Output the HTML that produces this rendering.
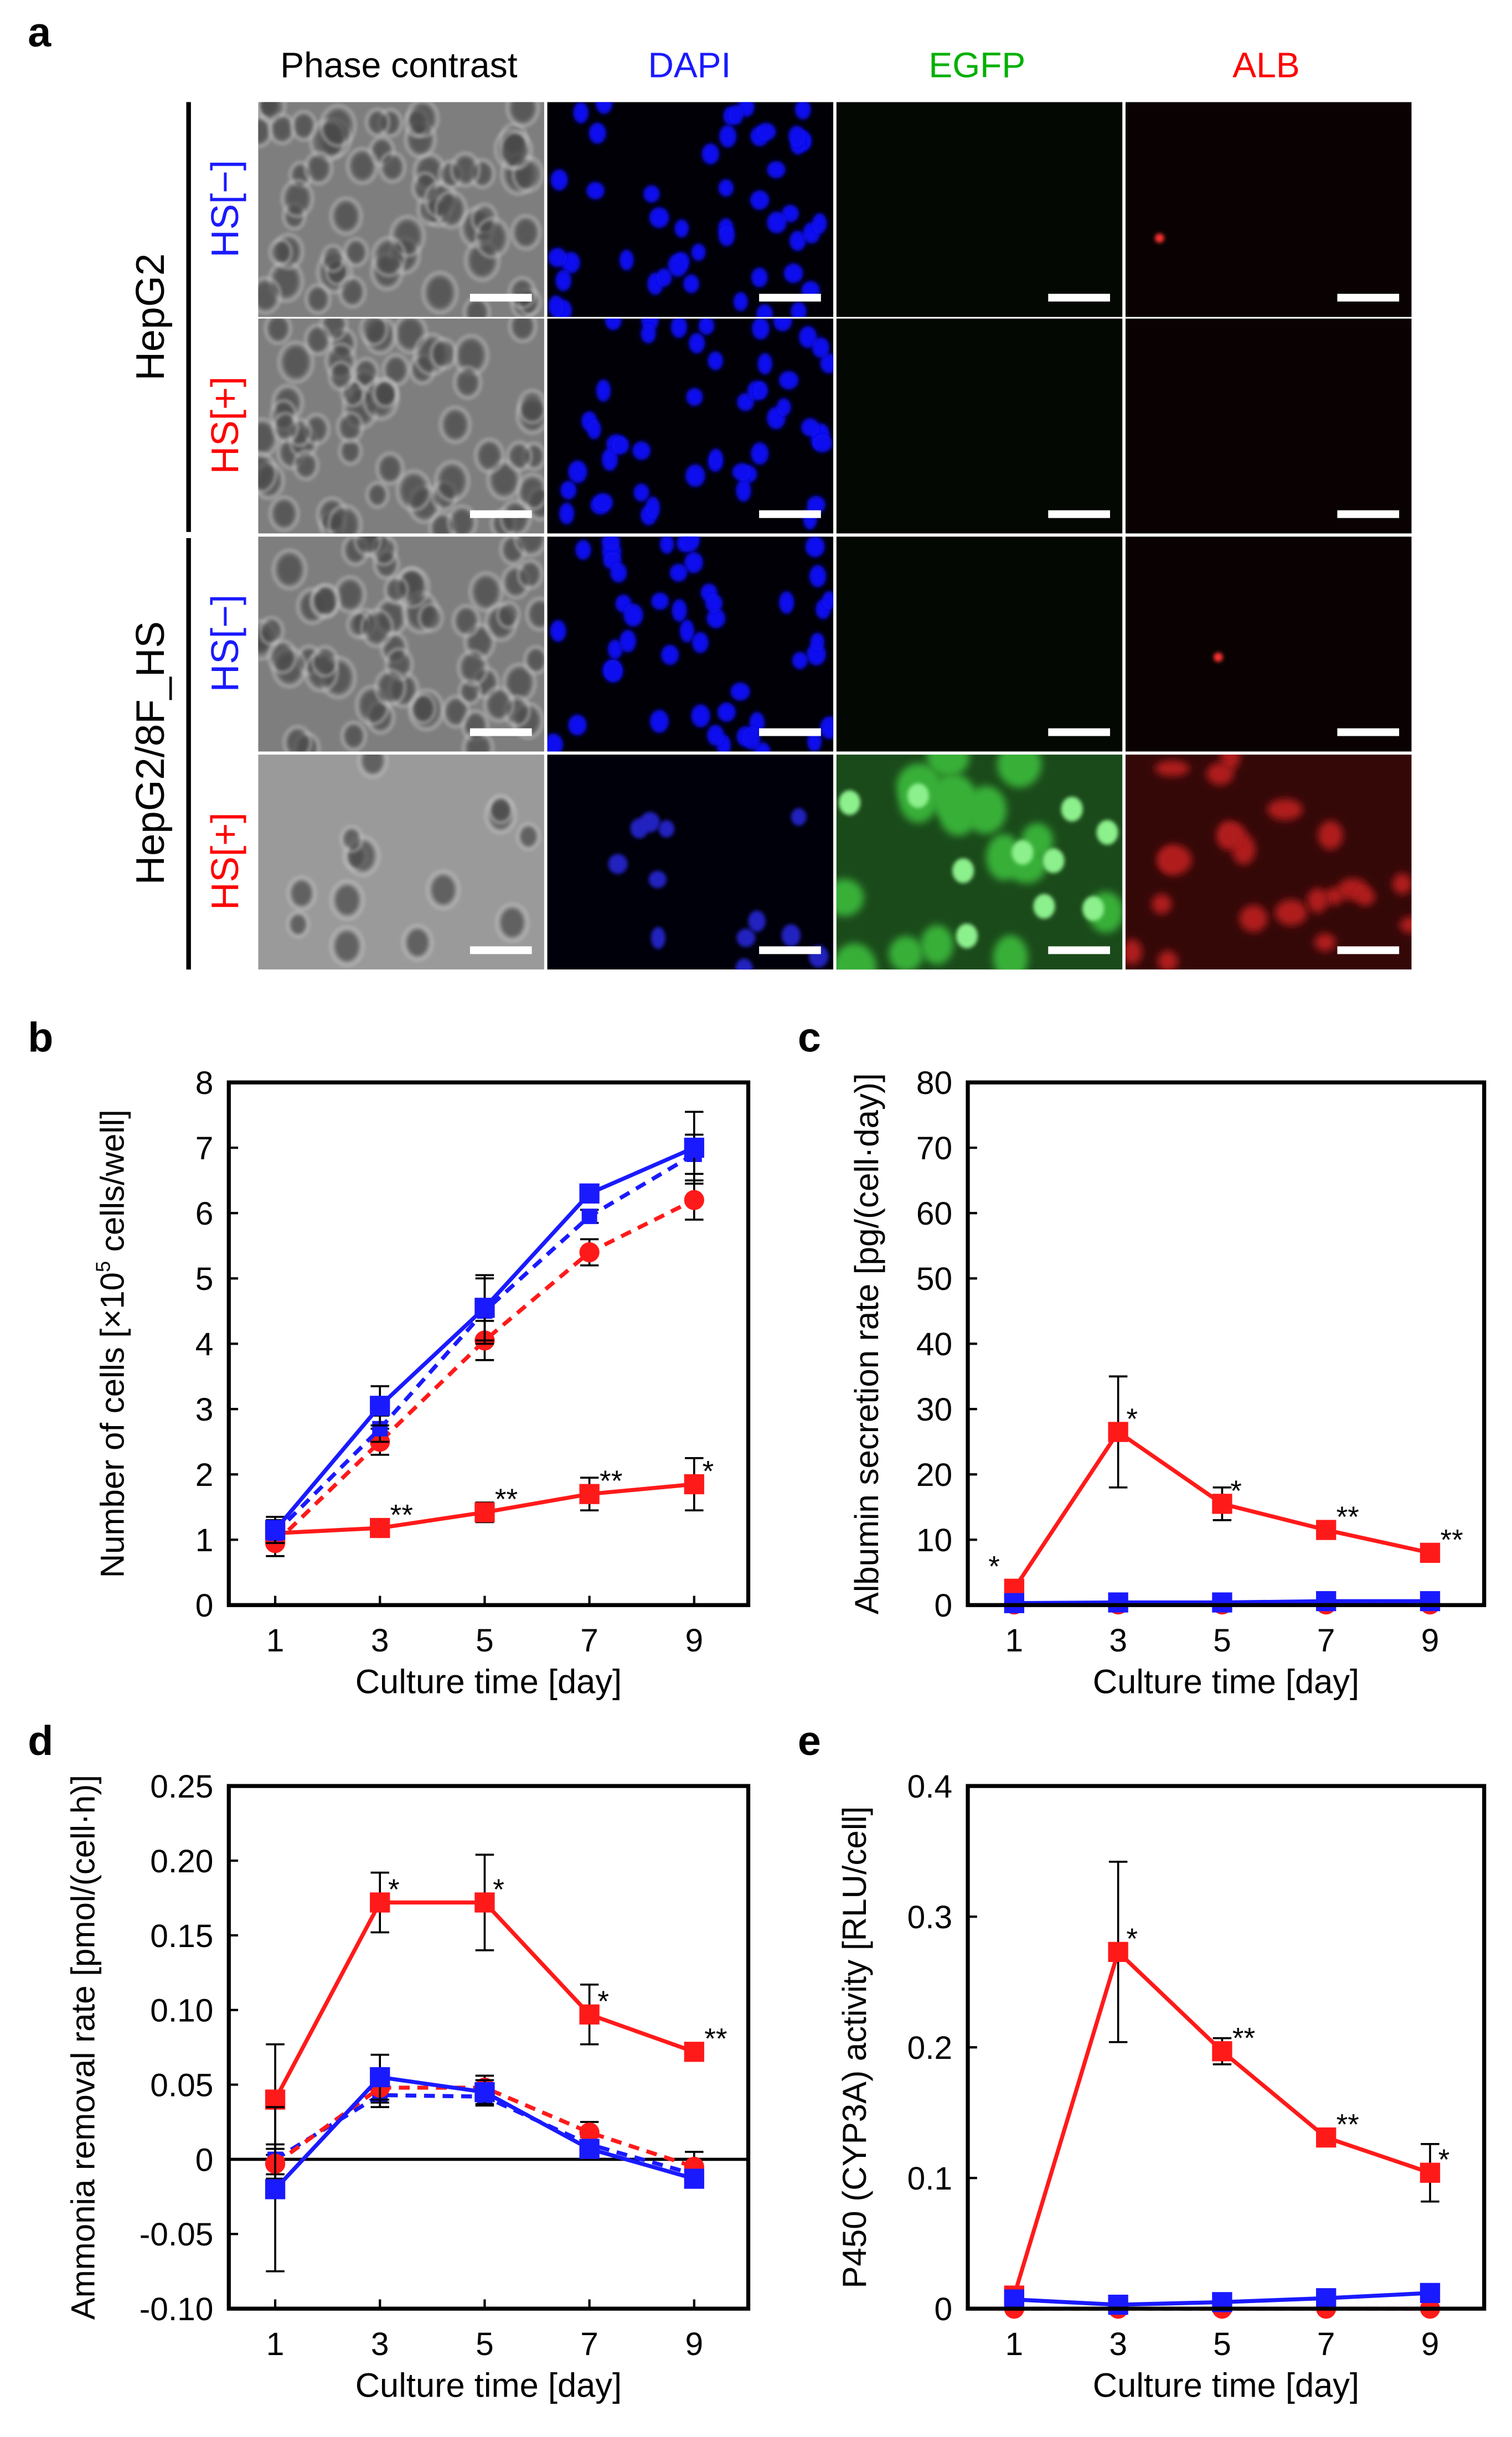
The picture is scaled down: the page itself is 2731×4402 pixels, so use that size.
<!DOCTYPE html>
<html><head><meta charset="utf-8"><style>
html,body{margin:0;padding:0;background:#fff;}
svg{display:block;font-family:"Liberation Sans",Arial,sans-serif;}
</style></head><body>
<svg id="fig" width="2731" height="4402" viewBox="0 0 978 1576" preserveAspectRatio="none" xmlns="http://www.w3.org/2000/svg">
<rect width="978" height="1576" fill="#fff"/>
<text x="18" y="30" font-size="27" font-weight="bold">a</text>
<g font-size="23" text-anchor="middle">
<text x="258" y="50">Phase contrast</text>
<text x="446" y="50" fill="#1a1aff">DAPI</text>
<text x="632" y="50" fill="#00b000">EGFP</text>
<text x="819" y="50" fill="#ff0000">ALB</text>
</g>
<line x1="122" y1="66" x2="122" y2="344" stroke="#000" stroke-width="3"/>
<line x1="122" y1="348" x2="122" y2="627" stroke="#000" stroke-width="3"/>
<text transform="translate(106,205) rotate(-90)" font-size="26" text-anchor="middle">HepG2</text>
<text transform="translate(106,487) rotate(-90)" font-size="26" text-anchor="middle">HepG2/8F_HS</text>
<text transform="translate(154,135) rotate(-90)" font-size="25" text-anchor="middle" fill="#1a1aff">HS[−]</text>
<text transform="translate(154,275) rotate(-90)" font-size="25" text-anchor="middle" fill="#ff0000">HS[+]</text>
<text transform="translate(154,416) rotate(-90)" font-size="25" text-anchor="middle" fill="#1a1aff">HS[−]</text>
<text transform="translate(154,557) rotate(-90)" font-size="25" text-anchor="middle" fill="#ff0000">HS[+]</text>
<g id="micro"></g>
<g id="charts"></g>
</svg>
<script>
// ---------- chart data ----------
const days = [1, 3, 5, 7, 9];
// panel b
const bBlueSolid = [1.15, 3.05, 4.55, 6.3, 7.0];
const bBlueSolidErr = [0.2, 0.3, 0.5, 0.1, 0.55];
const bBlueDash = [1.1, 2.7, 4.5, 5.95, 6.9];
const bBlueDashErr = [0.15, 0.2, 0.5, 0.1, 0.3];
const bRedDash = [0.95, 2.5, 4.05, 5.4, 6.2];
const bRedDashErr = [0.2, 0.2, 0.3, 0.2, 0.3];
const bRedSolid = [1.1, 1.18, 1.42, 1.7, 1.85];
const bRedSolidErr = [0.2, 0.05, 0.15, 0.25, 0.4];
const bStars = ["", "**", "**", "**", "*"];
const bTicks = [0, 1, 2, 3, 4, 5, 6, 7, 8];
// panel c
const cRedSolid = [2.5, 26.5, 15.5, 11.5, 8];
const cRedSolidErr = [0.5, 8.5, 2.5, 1, 0.5];
const cBlueSolid = [0.3, 0.4, 0.4, 0.6, 0.6];
const cBlueDash = [0.2, 0.3, 0.3, 0.4, 0.4];
const cRedDash = [0.1, 0.1, 0.1, 0.1, 0.1];
const cStars = ["*", "*", "*", "**", "**"];
const cTicks = [0, 10, 20, 30, 40, 50, 60, 70, 80];
// panel d
const dRedSolid = [0.04, 0.172, 0.172, 0.097, 0.072];
const dRedSolidErr = [0.037, 0.02, 0.032, 0.02, 0.003];
const dBlueSolid = [-0.02, 0.055, 0.045, 0.007, -0.013];
const dBlueSolidErr = [0.055, 0.015, 0.008, 0.005, 0.005];
const dBlueDash = [0.0, 0.043, 0.042, 0.01, -0.01];
const dBlueDashErr = [0.01, 0.008, 0.006, 0.005, 0.005];
const dRedDash = [-0.003, 0.048, 0.048, 0.018, -0.005];
const dRedDashErr = [0.01, 0.01, 0.008, 0.007, 0.01];
const dStars = ["", "*", "*", "*", "**"];
const dTicks = [-0.10, -0.05, 0, 0.05, 0.10, 0.15, 0.20, 0.25];
const dTickLabels = ["-0.10", "-0.05", "0", "0.05", "0.10", "0.15", "0.20", "0.25"];
// panel e
const eRedSolid = [0.01, 0.273, 0.197, 0.131, 0.104];
const eRedSolidErr = [0.003, 0.069, 0.01, 0.003, 0.022];
const eBlueSolid = [0.007, 0.003, 0.005, 0.008, 0.012];
const eRedDash = [0.0, 0.0, 0.0, 0.0, 0.0];
const eStars = ["", "*", "**", "**", "*"];
const eTicks = [0, 0.1, 0.2, 0.3, 0.4];
const eTickLabels = ["0", "0.1", "0.2", "0.3", "0.4"];

const NS = "http://www.w3.org/2000/svg";
function mk(tag, attrs, parent) {
  const e = document.createElementNS(NS, tag);
  for (const k in attrs) e.setAttribute(k, attrs[k]);
  parent.appendChild(e);
  return e;
}
const charts = document.getElementById('charts');
const BLUE = "#1a1aff", RED = "#ff1a1a";

function drawChart(p) {
  const g = mk('g', {}, charts);
  
  
  const L = p.x0, R = p.x1, T = p.y0, B = p.y1;
  const xs = d => L + 30 + (d - 1) / 8 * (R - L - 65);
  const ys = v => B - (v - p.min) / (p.max - p.min) * (B - T);
  const lbl = mk('text', {x: p.labelX, y: T - 20, 'font-size': 27, 'font-weight': 'bold'}, g);
  lbl.textContent = p.id;
  
  
  if (p.zero) {
    const z = mk('line', {x1: L, x2: R, y1: ys(0), y2: ys(0), stroke: '#000', 'stroke-width': 2}, g);
    
    
  }
  p.ticks.forEach((t, i) => {
    const y = ys(t);
    const tk = mk('line', {x1: L, x2: L + 6, y1: y, y2: y, stroke: '#000', 'stroke-width': 1.5}, g);
    
    
    const tx = mk('text', {x: L - 10, y: y + 7.5, 'font-size': 21, 'text-anchor': 'end'}, g);
    tx.textContent = p.tickLabels ? p.tickLabels[i] : String(t);
    
    
  });
  days.forEach(d => {
    const x = xs(d);
    const tk = mk('line', {x1: x, x2: x, y1: B, y2: B - 6, stroke: '#000', 'stroke-width': 1.5}, g);
    
    
    const tx = mk('text', {x: x, y: B + 30, 'font-size': 21, 'text-anchor': 'middle'}, g);
    tx.textContent = String(d);
    
    
  });
  const xt = mk('text', {x: (L + R) / 2, y: B + 57, 'font-size': 22, 'text-anchor': 'middle'}, g);
  xt.textContent = 'Culture time [day]';
  
  
  const yt = mk('text', {transform: `translate(${p.yTitleX},${(T + B) / 2}) rotate(-90)`, 'font-size': 21.5, 'text-anchor': 'middle'}, g);
  if (p.id === 'b') {
    yt.innerHTML = 'Number of cells [×10<tspan font-size="13" dy="-9">5</tspan><tspan dy="9"> cells/well]</tspan>';
  } else yt.textContent = p.yTitle;
  
  
  p.series.forEach(s => {
    const sg = mk('g', {}, g);
    
    
    const pts = s.vals.map((v, i) => xs(days[i]) + ',' + ys(v)).join(' ');
    if (s.err) s.vals.forEach((v, i) => {
      const x = xs(days[i]);
      const e = s.err[i];
      const eb = mk('path', {d: `M${x},${ys(v - e)}V${ys(v + e)}M${x - 6},${ys(v - e)}H${x + 6}M${x - 6},${ys(v + e)}H${x + 6}`, stroke: '#000', 'stroke-width': 1.3, fill: 'none'}, sg);
      
      
    });
    const ln = mk('polyline', {points: pts, fill: 'none', stroke: s.color, 'stroke-width': 2.6, 'stroke-dasharray': s.dash ? '7,5' : 'none'}, sg);
    
    
    s.vals.forEach((v, i) => {
      const x = xs(days[i]), y = ys(v);
      let m;
      if (s.marker === 'circle') m = mk('circle', {cx: x, cy: y, r: s.size || 6.5, fill: s.color}, sg);
      else { const h = s.size || 6.5; m = mk('rect', {x: x - h, y: y - h, width: 2 * h, height: 2 * h, fill: s.color}, sg); }
      
      
    });
  });
  const rs = p.series[0];
  p.stars.forEach((st, i) => {
    if (!st) return;
    let x = xs(days[i]) + 9 + (st.length - 1) * 5, y = ys(rs.vals[i]) - 2;
    if (p.id === 'c' && i === 0) { x = xs(days[i]) - 13; y = ys(rs.vals[i]) - 8; }
    const t = mk('text', {x: x, y: y, 'font-size': 19, 'text-anchor': 'middle'}, g);
    t.textContent = st;
    
    
  });
  const box = mk('rect', {x: L, y: T, width: R - L, height: B - T, fill: 'none', stroke: '#000', 'stroke-width': 2.6}, g);
  
  
}

drawChart({id: 'b', x0: 148, x1: 484, y0: 700, y1: 1038, labelX: 18, min: 0, max: 8, ticks: bTicks, yTitleX: 80, stars: bStars,
  series: [
    {name: 'red-solid', vals: bRedSolid, err: bRedSolidErr, color: RED, marker: 'square'},
    {name: 'red-dashed', vals: bRedDash, err: bRedDashErr, color: RED, marker: 'circle', dash: true},
    {name: 'blue-dashed', vals: bBlueDash, err: bBlueDashErr, color: BLUE, marker: 'square', dash: true, size: 5},
    {name: 'blue-solid', vals: bBlueSolid, err: bBlueSolidErr, color: BLUE, marker: 'square'}
  ]});
drawChart({id: 'c', x0: 626, x1: 960, y0: 700, y1: 1038, labelX: 516, min: 0, max: 80, ticks: cTicks, yTitleX: 568, stars: cStars,
  yTitle: 'Albumin secretion rate [pg/(cell·day)]',
  series: [
    {name: 'red-solid', vals: cRedSolid, err: cRedSolidErr, color: RED, marker: 'square'},
    {name: 'red-dashed', vals: cRedDash, color: RED, marker: 'circle', dash: true},
    {name: 'blue-dashed', vals: cBlueDash, color: BLUE, marker: 'square', dash: true, size: 5},
    {name: 'blue-solid', vals: cBlueSolid, color: BLUE, marker: 'square'}
  ]});
drawChart({id: 'd', x0: 148, x1: 484, y0: 1155, y1: 1493, labelX: 18, min: -0.10, max: 0.25, ticks: dTicks, tickLabels: dTickLabels, yTitleX: 61, stars: dStars, zero: true,
  yTitle: 'Ammonia removal rate [pmol/(cell·h)]',
  series: [
    {name: 'red-solid', vals: dRedSolid, err: dRedSolidErr, color: RED, marker: 'square'},
    {name: 'blue-dashed', vals: dBlueDash, err: dBlueDashErr, color: BLUE, marker: 'square', dash: true, size: 5},
    {name: 'red-dashed', vals: dRedDash, err: dRedDashErr, color: RED, marker: 'circle', dash: true},
    {name: 'blue-solid', vals: dBlueSolid, err: dBlueSolidErr, color: BLUE, marker: 'square'}
  ]});
drawChart({id: 'e', x0: 626, x1: 960, y0: 1155, y1: 1493, labelX: 516, min: 0, max: 0.4, ticks: eTicks, tickLabels: eTickLabels, yTitleX: 560, stars: eStars,
  yTitle: 'P450 (CYP3A) activity [RLU/cell]',
  series: [
    {name: 'red-solid', vals: eRedSolid, err: eRedSolidErr, color: RED, marker: 'square'},
    {name: 'red-dashed', vals: eRedDash, color: RED, marker: 'circle', dash: true},
    {name: 'blue-solid', vals: eBlueSolid, color: BLUE, marker: 'square'}
  ]});

// ---------- microscopy tiles (decorative texture) ----------
const micro = document.getElementById('micro');
let seed = 12345;
function rnd() { seed = (seed * 16807) % 2147483647; return seed / 2147483647; }
const colX = [167, 354, 541, 728], rowY = [66, 206, 347, 488], TW = 185, TH = 139;
const defs = mk('defs', {}, document.getElementById('fig'));
const bl = mk('filter', {id: 'blur', x: '-50%', y: '-50%', width: '200%', height: '200%'}, defs);
mk('feGaussianBlur', {stdDeviation: 1.2}, bl);
const bl2 = mk('filter', {id: 'blur2', x: '-50%', y: '-50%', width: '200%', height: '200%'}, defs);
mk('feGaussianBlur', {stdDeviation: 2.5}, bl2);
for (let r = 0; r < 4; r++) for (let c = 0; c < 4; c++) {
  const x0 = colX[c], y0 = rowY[r];
  const cp = mk('clipPath', {id: `cp${r}${c}`}, defs);
  mk('rect', {x: x0, y: y0, width: TW, height: TH}, cp);
  const tg = mk('g', {'clip-path': `url(#cp${r}${c})`}, micro);
  
  
  let bg = ['#7e7e7e', '#000006', '#030803', '#0a0202'][c];
  if (r === 3 && c === 0) bg = '#9a9a9a';
  if (r === 3 && c === 2) bg = '#1a4a1a';
  if (r === 3 && c === 3) bg = '#350808';
  if (r === 3 && c === 1) bg = '#00000a';
  mk('rect', {x: x0, y: y0, width: TW, height: TH, fill: bg}, tg);
  if (c === 0) {
    const n = r === 3 ? 14 : 60;
    for (let i = 0; i < n; i++) {
      const cx = x0 + rnd() * TW, cy = y0 + rnd() * TH, rr = 6 + rnd() * 4;
      mk('ellipse', {cx: cx, cy: cy, rx: rr * 1.1, ry: rr * 1.3, fill: 'none', stroke: '#c4c4c4', 'stroke-width': 1.6, opacity: 0.7, filter: 'url(#blur)'}, tg);
      mk('ellipse', {cx: cx, cy: cy, rx: rr * 0.8, ry: rr, fill: '#4a4a4a', opacity: 0.7, filter: 'url(#blur)'}, tg);
    }
  } else if (c === 1) {
    const n = r === 3 ? 12 : 48;
    for (let i = 0; i < n; i++) {
      mk('ellipse', {cx: x0 + rnd() * TW, cy: y0 + rnd() * TH, rx: 4.5 + rnd() * 2, ry: 5.5 + rnd() * 2, fill: r === 3 ? '#2020c0' : '#1010f0', filter: 'url(#blur)'}, tg);
    }
  } else if (c === 2 && r === 3) {
    for (let i = 0; i < 16; i++) {
      mk('ellipse', {cx: x0 + rnd() * TW, cy: y0 + rnd() * TH, rx: 10 + rnd() * 5, ry: 11 + rnd() * 5, fill: '#38b038', filter: 'url(#blur2)'}, tg);
    }
    for (let i = 0; i < 10; i++) {
      mk('ellipse', {cx: x0 + rnd() * TW, cy: y0 + rnd() * TH, rx: 7, ry: 8, fill: '#8cf08c', filter: 'url(#blur)'}, tg);
    }
  } else if (c === 3 && r === 3) {
    for (let i = 0; i < 22; i++) {
      mk('ellipse', {cx: x0 + rnd() * TW, cy: y0 + rnd() * TH, rx: 6 + rnd() * 6, ry: 5 + rnd() * 5, fill: '#b01a1a', filter: 'url(#blur2)'}, tg);
    }
  } else if (c === 3 && (r === 0 || r === 2)) {
    mk('circle', {cx: x0 + (r === 0 ? 22 : 60), cy: y0 + (r === 0 ? 88 : 78), r: 3, fill: '#ff3030', filter: 'url(#blur)'}, tg);
  }
  const sb = mk('rect', {x: x0 + TW - 48, y: y0 + TH - 15, width: 40, height: 5, fill: '#fff'}, tg);
  
  
}
</script>
</body></html>
